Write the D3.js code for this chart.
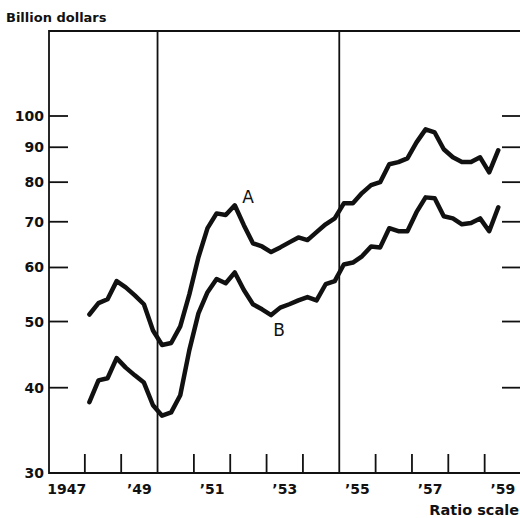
<!DOCTYPE html>
<html>
<head>
<meta charset="utf-8">
<script src="https://d3js.org/d3.v7.min.js"></script>
<style>
  body { margin: 0; background: #fff; }
  svg text { font-family: "DejaVu Sans", sans-serif; fill: #111; }
  .frame { stroke: #111; stroke-width: 1.8px; fill: none; }
  .series { fill: none; stroke: #111; stroke-width: 4.5px; stroke-linejoin: round; stroke-linecap: round; }
</style>
</head>
<body>
<div id="chart"></div>
<script>
// quarterly, 1948 Q1 .. 1959 Q2, billion dollars (ratio scale)
const startYear = 1948;
const seriesA = [51.2, 53.2, 53.9, 57.3, 56.1, 54.6, 53.0, 48.5, 46.2, 46.5, 49.2, 54.8,
  62.1, 68.5, 72.0, 71.6, 74.0, 69.2, 65.1, 64.4, 63.2, 64.2, 65.3, 66.4,
  65.8, 67.6, 69.4, 70.8, 74.5, 74.5, 77.1, 79.2, 80.0, 85.0, 85.6, 86.7,
  91.5, 95.6, 94.6, 89.4, 87.0, 85.6, 85.6, 87.0, 82.7, 89.1];
const seriesB = [38.1, 41.0, 41.3, 44.2, 42.8, 41.7, 40.7, 37.7, 36.4, 36.8, 39.0, 45.4,
  51.4, 55.2, 57.7, 56.9, 59.0, 55.6, 53.0, 52.1, 51.1, 52.4, 53.0, 53.7,
  54.3, 53.7, 56.7, 57.3, 60.6, 61.0, 62.3, 64.4, 64.2, 68.5, 67.8, 67.8,
  72.3, 76.0, 75.8, 71.3, 70.8, 69.4, 69.7, 70.8, 67.8, 73.5];
const yTicks = [30, 40, 50, 60, 70, 80, 90, 100];
const yearLabels = [[1947, "1947"], [1949, "’49"], [1951, "’51"], [1953, "’53"],
  [1955, "’55"], [1957, "’57"], [1959, "’59"]];
const fullYears = [1950, 1955];

const width = 520, height = 518;
const svg = d3.select("#chart").append("svg")
  .attr("width", width).attr("height", height);

const x = d3.scaleLinear().domain([1947, 1960]).range([48.5, 521]);
const y = d3.scaleLog().domain([30, 100]).range([473, 116]);
const plotTop = 31, plotBottom = 473, plotLeft = 49, plotRight = 520;

// frame
svg.append("path").attr("class", "frame")
  .attr("d", `M${plotRight},${plotTop}H${plotLeft}V${plotBottom}H${plotRight}`);

// year ticks on bottom
const years = d3.range(1948, 1960);
svg.append("g").selectAll("line").data(years).join("line")
  .attr("class", "frame")
  .attr("x1", d => x(d)).attr("x2", d => x(d))
  .attr("y1", d => fullYears.includes(d) ? plotTop : plotBottom - 19)
  .attr("y2", plotBottom);

// y ticks left and right
const yt = yTicks.filter(d => d > 30);
svg.append("g").selectAll("line").data(yt).join("line")
  .attr("class", "frame")
  .attr("x1", plotLeft).attr("x2", plotLeft + 19)
  .attr("y1", d => y(d)).attr("y2", d => y(d));
svg.append("g").selectAll("line").data(yt).join("line")
  .attr("class", "frame")
  .attr("x1", plotRight - 18).attr("x2", plotRight)
  .attr("y1", d => y(d)).attr("y2", d => y(d));

svg.append("g").selectAll("text").data(yTicks).join("text")
  .attr("x", 44).attr("y", d => y(d) + 5)
  .attr("text-anchor", "end").style("font-size", "14px").style("font-weight", "bold")
  .text(d => d);

svg.append("g").selectAll("text").data(yearLabels).join("text")
  .attr("x", d => x(d[0] + 0.5)).attr("y", 494)
  .attr("text-anchor", "middle").style("font-size", "14px").style("font-weight", "bold")
  .text(d => d[1]);

svg.append("text").attr("x", 6).attr("y", 22)
  .style("font-size", "13px").style("font-weight", "bold").text("Billion dollars");
svg.append("text").attr("x", 519).attr("y", 515)
  .attr("text-anchor", "end").style("font-size", "14.5px").style("font-weight", "bold")
  .text("Ratio scale");

// series
const qx = i => x(startYear + 0.125 + i * 0.25);
const line = d3.line().x((d, i) => qx(i)).y(d => y(d));
svg.append("path").attr("class", "series").attr("d", line(seriesA));
svg.append("path").attr("class", "series").attr("d", line(seriesB));

svg.append("text").attr("x", 248).attr("y", 203)
  .attr("text-anchor", "middle").style("font-size", "17px").text("A");
svg.append("text").attr("x", 279).attr("y", 336)
  .attr("text-anchor", "middle").style("font-size", "17px").text("B");
</script>
</body>
</html>
